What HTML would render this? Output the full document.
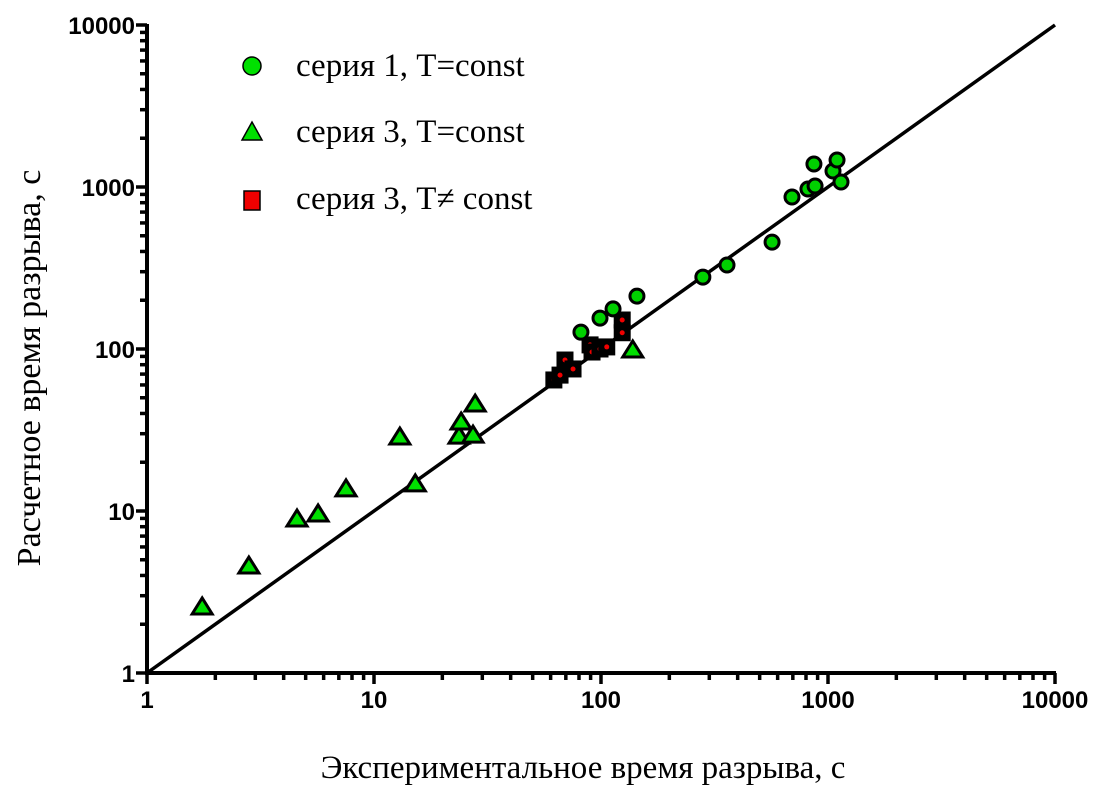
<!DOCTYPE html>
<html><head><meta charset="utf-8"><style>
body{margin:0;background:#fff;}
svg{display:block;}
</style></head><body>
<svg id="chart" width="1104" height="791" xmlns="http://www.w3.org/2000/svg">
<g id="axes"></g>
<g id="marks"></g>
<g>
  <circle cx="252" cy="66" r="9" fill="#00e000" stroke="#000" stroke-width="1.5"/>
  <text x="296" y="76" font-family="Liberation Serif, serif" font-size="33">серия 1, T=const</text>
  <polygon points="252,122 262,140 242,140" fill="#00e000" stroke="#000" stroke-width="1.5"/>
  <text x="296" y="142" font-family="Liberation Serif, serif" font-size="33">серия 3, T=const</text>
  <rect x="244" y="191" width="16" height="19" fill="#f00000" stroke="#000" stroke-width="1.5"/>
  <text x="296" y="209" font-family="Liberation Serif, serif" font-size="33">серия 3, T≠ const</text>
</g>
<text x="583" y="778" text-anchor="middle" font-family="Liberation Serif, serif" font-size="33">Экспериментальное время разрыва, с</text>
<text transform="translate(40,368) rotate(-90)" text-anchor="middle" font-family="Liberation Serif, serif" font-size="34">Расчетное время разрыва, с</text>
</svg>
<script>
const tickLabels = ["1","10","100","1000","10000"];
const s1x = [81.6,99,113,144,281,359,567,694,816,877,867,1052,1096,1141];
const s1y = [127,155,177,212,278,330,457,867,972,1014,1387,1255,1468,1073];
const s3x = [1.75,2.81,4.58,5.67,7.53,13.0,15.2,23.7,24.2,27.3,27.9,138];
const s3y = [2.52,4.51,8.8,9.45,13.5,28.2,14.5,28.6,34.9,29.0,45.1,97.2];
const s3vx = [62,66,69.4,75.3,89.5,91.3,99,106,124,124];
const s3vy = [64.4,69,85.5,75.3,106,95.8,100,103,126,151];

const X0=147, Y0=673, DX=227, DY=162;
const sx = v => X0 + Math.log10(v)*DX;
const sy = v => Y0 - Math.log10(v)*DY;
const NS="http://www.w3.org/2000/svg";
function mk(tag, attrs, parent){const e=document.createElementNS(NS,tag);for(const k in attrs)e.setAttribute(k,attrs[k]);parent.appendChild(e);return e;}
const axes=document.getElementById('axes'), marks=document.getElementById('marks');

let dl=mk('line',{x1:sx(1),y1:sy(1),x2:sx(10000),y2:sy(10000),stroke:'#000','stroke-width':3.5},axes);



let xa=mk('line',{x1:X0-2,y1:Y0,x2:sx(10000)+1,y2:Y0,stroke:'#000','stroke-width':4},axes);


let ya=mk('line',{x1:X0,y1:Y0+2,x2:X0,y2:sy(10000)-1,stroke:'#000','stroke-width':4},axes);



for(let d=0; d<tickLabels.length; d++){
  const v=Math.pow(10,d);
  let t=mk('line',{x1:sx(v),y1:Y0,x2:sx(v),y2:Y0+11,stroke:'#000','stroke-width':3.5},axes);
  
  
  let l=mk('text',{x:sx(v),y:Y0+35,'text-anchor':'middle','font-family':'Liberation Sans, sans-serif','font-size':24,'font-weight':'bold'},axes);
  l.textContent=tickLabels[d];
  
  
  let t2=mk('line',{x1:X0,y1:sy(v),x2:X0-11,y2:sy(v),stroke:'#000','stroke-width':3.5},axes);
  
  
  let l2=mk('text',{x:X0-12,y:sy(v)+9,'text-anchor':'end','font-family':'Liberation Sans, sans-serif','font-size':24,'font-weight':'bold'},axes);
  l2.textContent=tickLabels[d];
  
  
  if(d<tickLabels.length-1){
    for(let m=2;m<10;m++){
      const mv=v*m;
      let a=mk('line',{x1:sx(mv),y1:Y0,x2:sx(mv),y2:Y0+7,stroke:'#000','stroke-width':3.5},axes);
      
      
      let b=mk('line',{x1:X0,y1:sy(mv),x2:X0-7,y2:sy(mv),stroke:'#000','stroke-width':3.5},axes);
      
      
    }
  }
}

for(let i=0;i<s3vx.length;i++){
  const cx=sx(s3vx[i]), cy=sy(s3vy[i]);
  let r=mk('rect',{x:cx-8,y:cy-8,width:16,height:16,fill:'#000',stroke:'#000','stroke-width':1},marks);
  
  
  let c=mk('circle',{cx:cx,cy:cy,r:2.5,fill:'#f00000'},marks);
  
  
}
for(let i=0;i<s3x.length;i++){
  const cx=sx(s3x[i]), cy=sy(s3y[i]);
  let p=mk('polygon',{points:`${cx},${cy-10} ${cx+10},${cy+6} ${cx-10},${cy+6}`,fill:'#00e000',stroke:'#000','stroke-width':3},marks);
  
  
}
for(let i=0;i<s1x.length;i++){
  const cx=sx(s1x[i]), cy=sy(s1y[i]);
  let c=mk('circle',{cx:cx,cy:cy,r:7,fill:'#00d000',stroke:'#000','stroke-width':3},marks);
  
  
}
</script>
</body></html>
